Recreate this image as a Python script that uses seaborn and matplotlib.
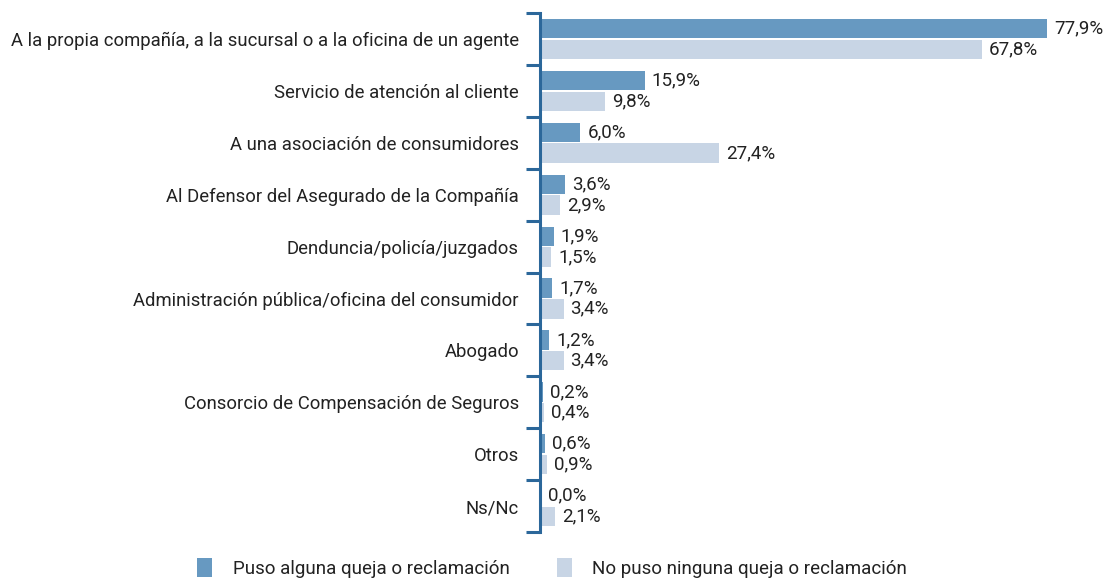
import matplotlib
matplotlib.use("Agg")
import matplotlib.pyplot as plt
from matplotlib import font_manager
import seaborn as sns
import pandas as pd
import numpy as np

categories = [
    "A la propia compañía, a la sucursal o a la oficina de un agente",
    "Servicio de atención al cliente",
    "A una asociación de consumidores",
    "Al Defensor del Asegurado de la Compañía",
    "Denduncia/policía/juzgados",
    "Administración pública/oficina del consumidor",
    "Abogado",
    "Consorcio de Compensación de Seguros",
    "Otros",
    "Ns/Nc",
]
series_names = ["Puso alguna queja o reclamación", "No puso ninguna queja o reclamación"]
puso = [77.9, 15.9, 6.0, 3.6, 1.9, 1.7, 1.2, 0.2, 0.6, 0.0]
no_puso = [67.8, 9.8, 27.4, 2.9, 1.5, 3.4, 3.4, 0.4, 0.9, 2.1]

colors = ["#6799c1", "#c8d5e5"]
spine_color = "#2b679a"
text_color = "#222222"

sns.set_theme(style="white")
available = {f.name for f in font_manager.fontManager.ttflist}
family = ["Liberation Sans Narrow"] if "Liberation Sans Narrow" in available else ["Roboto"]
plt.rcParams["font.family"] = family + ["DejaVu Sans"]

df = pd.DataFrame({
    "categoria": categories * 2,
    "serie": [series_names[0]] * len(categories) + [series_names[1]] * len(categories),
    "valor": puso + no_puso,
})

fig = plt.figure(figsize=(11.13, 5.81), dpi=100)
ax = fig.add_axes([0.485, 0.0843, 0.515, 0.8933])

sns.barplot(data=df, y="categoria", x="valor", hue="serie", order=categories,
            hue_order=series_names, palette=colors, orient="h", width=0.8,
            saturation=1, ax=ax, legend=False)

# leave a thin gap between the two bars of each pair
for cont in ax.containers:
    for bar in cont:
        h = bar.get_height()
        bar.set_height(h * 0.93)
        bar.set_y(bar.get_y() + h * 0.035)
        bar.set_edgecolor("none")

for cont, vals in zip(ax.containers, [puso, no_puso]):
    labels = [f"{v:.1f}%".replace(".", ",") for v in vals]
    ax.bar_label(cont, labels=labels, padding=5, fontsize=13.5, color=text_color)

# small negative start keeps the axis line just left of the bars
ax.set_xlim(-0.25, 88)
ax.set_ylim(len(categories) - 0.5, -0.5)
ax.set_xlabel("")
ax.set_ylabel("")
ax.set_xticks([])

# boundaries get tick marks, centers get the category names
ax.set_yticks(np.arange(-0.5, len(categories), 1.0))
ax.set_yticklabels([])
ax.set_yticks(np.arange(len(categories)), minor=True)
ax.set_yticklabels(categories, minor=True, fontsize=13.3, color=text_color)
ax.tick_params(axis="y", which="major", length=10, width=2.2, color=spine_color, left=True, direction="out")
ax.tick_params(axis="y", which="minor", length=0, pad=15)

for side in ["top", "right", "bottom"]:
    ax.spines[side].set_visible(False)
ax.spines["left"].set_color(spine_color)
ax.spines["left"].set_linewidth(2.2)

# legend entries placed one by one below the plot
for name, col, x0 in zip(series_names, colors, [0.177, 0.5]):
    handle = plt.Rectangle((0, 0), 1, 1, facecolor=col, edgecolor="none")
    fig.legend([handle], [name], loc="center left", bbox_to_anchor=(x0, 0.023),
               frameon=False, fontsize=13.5, handlelength=0.8, handleheight=1.2,
               handletextpad=1.1, borderpad=0, borderaxespad=0, labelcolor=text_color)

fig.savefig("out.png", dpi=100)
